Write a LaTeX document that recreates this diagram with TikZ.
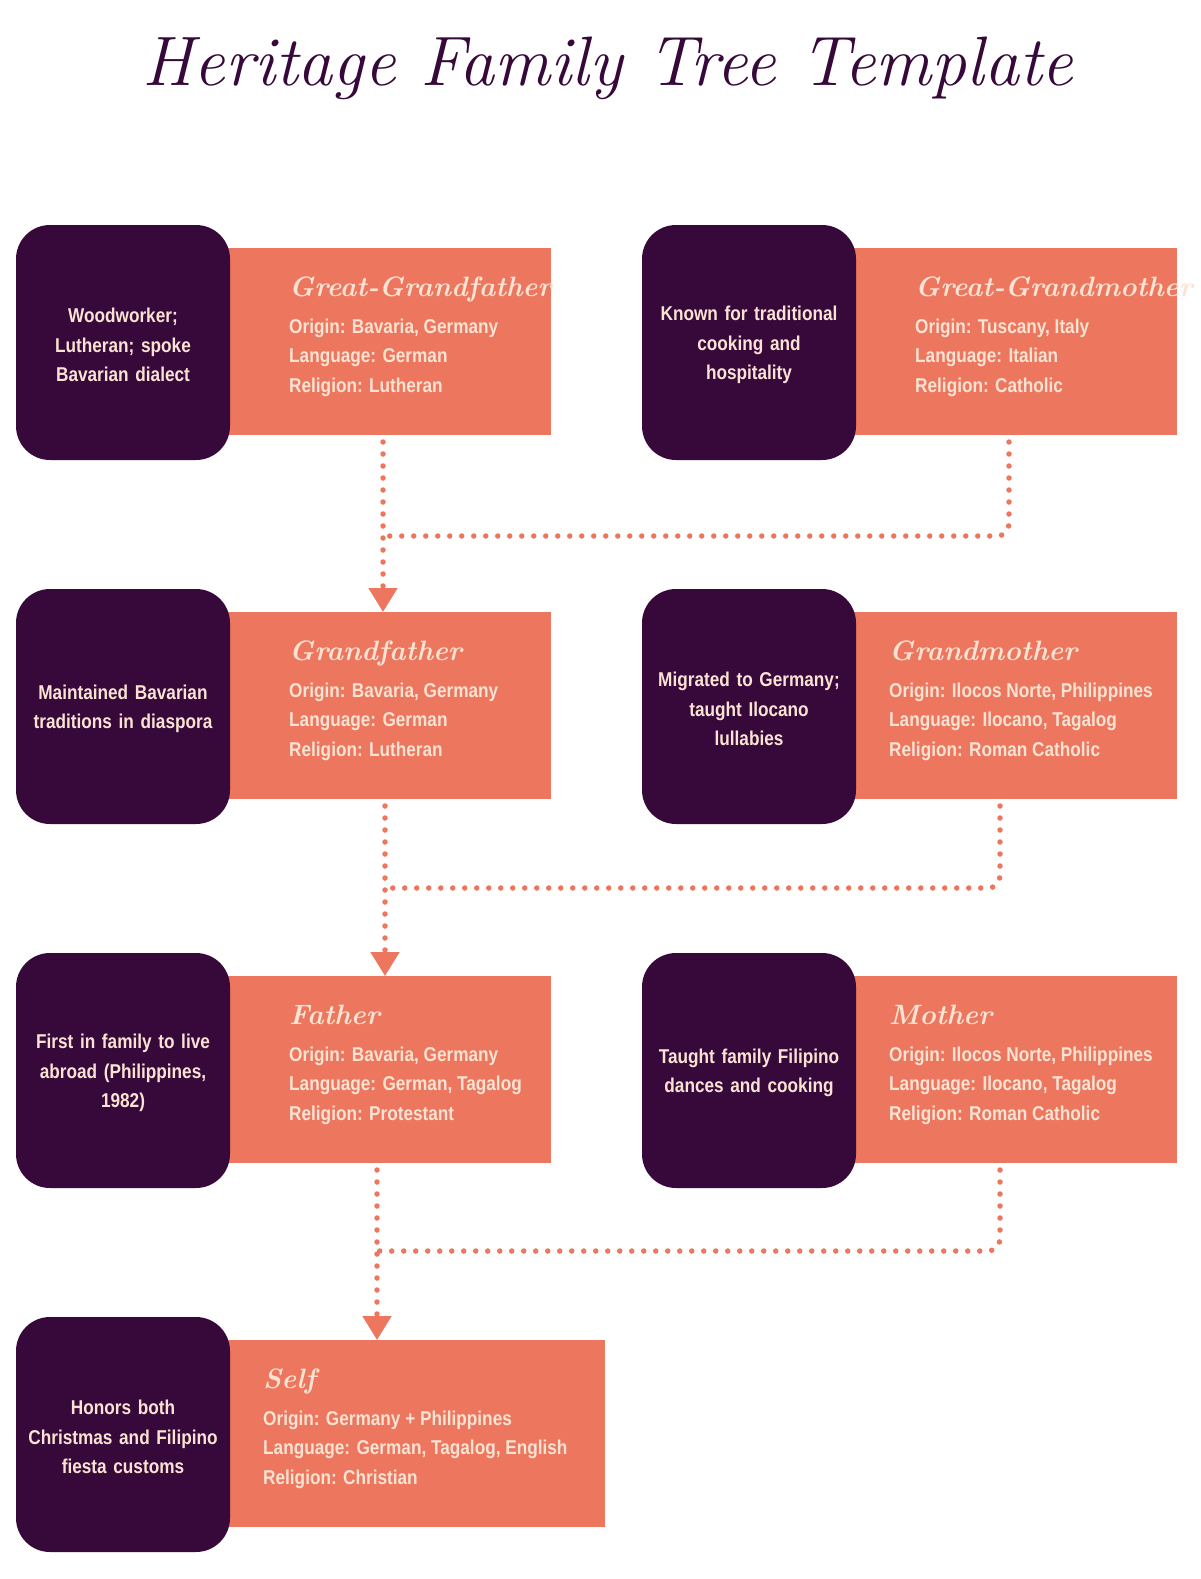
\documentclass[tikz,border=0pt]{standalone}
\usepackage{fontspec}
\setmainfont{Liberation Sans}[FakeStretch=0.86]
\newfontfamily\titlef{Latin Modern Roman}
\usetikzlibrary{arrows.meta}
\definecolor{dk}{HTML}{36093A}
\definecolor{co}{HTML}{ED765E}
\definecolor{lt}{HTML}{FBE3D3}
\begin{document}
\begin{tikzpicture}[x=1pt,y=-1pt,
 dark/.style={fill=dk,rounded corners=34pt},
 coral/.style={fill=co},
 note/.style={text=lt,align=center,text width=210pt,font=\fontsize{20}{29.5}\selectfont\bfseries,inner sep=0},
 info/.style={text=lt,align=left,anchor=north west,font=\fontsize{20}{29.5}\selectfont\bfseries,inner sep=0},
 link/.style={co,line width=5.5pt,line cap=round,dash pattern=on 0pt off 12pt,rounded corners=12pt},
 tip/.style={-{Triangle[length=24pt,width=28pt]},co,line width=5pt}]
\useasboundingbox (0,0) rectangle (1200,1579);
\node[text=dk,font=\fontsize{70}{76}\selectfont\titlef\itshape] (title) at (608,68) {Heritage Family Tree Template};
\newcommand\famblock[9]{%
 \fill[coral] (#1+212,#2+23) rectangle (#1+#9,#2+210) coordinate (#3c);
 \fill[dark] (#1,#2) rectangle (#1+214,#2+235);
 \node[note] (#3n) at (#1+107,#2+120) {#4};
 \node[info] (#3i) at (#1+#8,#2+52) {{\fontsize{28}{30}\selectfont\titlef\itshape #5}\\[7pt]#6\\#7};}
\famblock{16}{225}{gg}{Woodworker;\\Lutheran; spoke\\Bavarian dialect}{Great-Grandfather}{Origin: Bavaria, Germany\\Language: German}{Religion: Lutheran}{273}{535}
\famblock{642}{225}{gm}{Known for traditional\\cooking and\\hospitality}{Great-Grandmother}{Origin: Tuscany, Italy\\Language: Italian}{Religion: Catholic}{273}{535}
\famblock{16}{589}{g}{Maintained Bavarian\\traditions in diaspora}{Grandfather}{Origin: Bavaria, Germany\\Language: German}{Religion: Lutheran}{273}{535}
\famblock{642}{589}{gmo}{Migrated to Germany;\\taught Ilocano\\lullabies}{Grandmother}{Origin: Ilocos Norte, Philippines\\Language: Ilocano, Tagalog}{Religion: Roman Catholic}{247}{535}
\famblock{16}{953}{f}{First in family to live\\abroad (Philippines,\\1982)}{Father}{Origin: Bavaria, Germany\\Language: German, Tagalog}{Religion: Protestant}{273}{535}
\famblock{642}{953}{m}{Taught family Filipino\\dances and cooking}{Mother}{Origin: Ilocos Norte, Philippines\\Language: Ilocano, Tagalog}{Religion: Roman Catholic}{247}{535}
\famblock{16}{1317}{s}{Honors both\\Christmas and Filipino\\fiesta customs}{Self}{Origin: Germany + Philippines\\Language: German, Tagalog, English}{Religion: Christian}{247}{589}
\coordinate (a1) at (383,442); \coordinate (a2) at (383,588); \coordinate (a3) at (383,612);
\coordinate (b1) at (1009,442); \coordinate (j1) at (383,536);
\draw[link] (a1) -- (a2);
\draw[link] (b1) |- (j1);
\draw[tip] (a2) -- (a3);
\coordinate (c1) at (385,806); \coordinate (c2) at (385,952); \coordinate (c3) at (385,976);
\coordinate (d1) at (1000,806); \coordinate (j2) at (385,888);
\draw[link] (c1) -- (c2);
\draw[link] (d1) |- (j2);
\draw[tip] (c2) -- (c3);
\coordinate (e1) at (377,1170); \coordinate (e2) at (377,1316); \coordinate (e3) at (377,1340);
\coordinate (f1) at (1000,1170); \coordinate (j3) at (377,1251);
\draw[link] (e1) -- (e2);
\draw[link] (f1) |- (j3);
\draw[tip] (e2) -- (e3);
\end{tikzpicture}
\end{document}
